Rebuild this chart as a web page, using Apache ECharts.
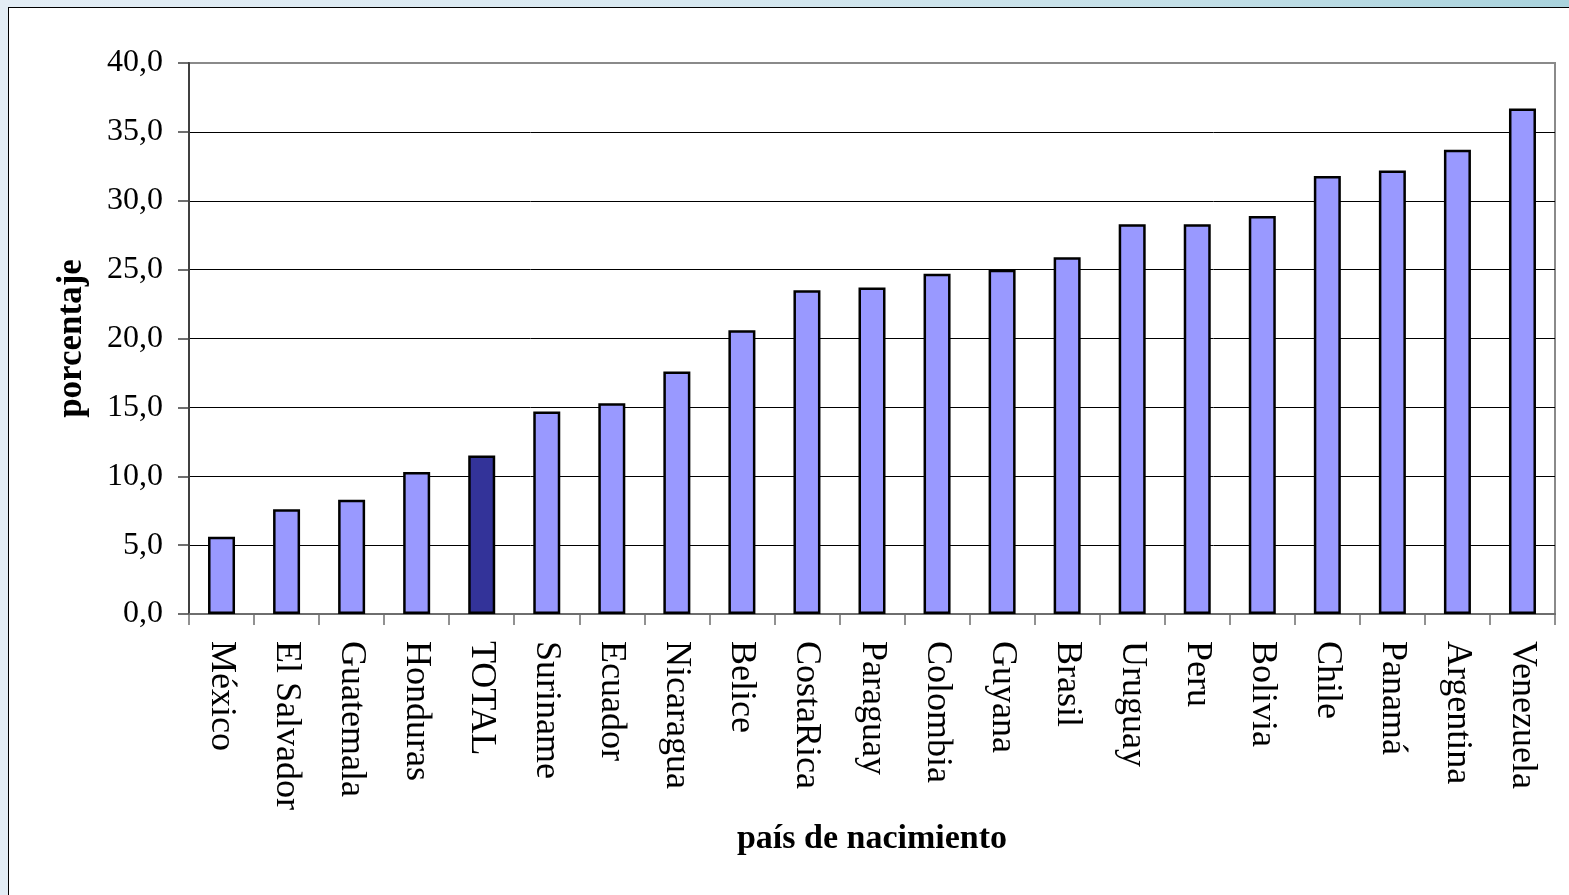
<!DOCTYPE html>
<html>
<head>
<meta charset="utf-8">
<script src="https://cdn.jsdelivr.net/npm/echarts@6/dist/echarts.min.js"></script>
<style>
  html, body { margin: 0; padding: 0; width: 1569px; height: 895px; overflow: hidden; }
  body { background: linear-gradient(to right, #e3edf5 0%, #d9e9f1 40%, #c4e0e8 75%, #a9d3dd 100%); position: relative; }
  #frame { position: absolute; left: 8px; top: 7px; width: 1580px; height: 910px; background: #ffffff; border: 1.5px solid #000; }
  #chart { position: absolute; left: 0; top: 0; width: 1569px; height: 895px; }
</style>
</head>
<body>
<div id="frame"></div>
<div id="chart"></div>
<script>
const categories = ['México', 'El Salvador', 'Guatemala', 'Honduras', 'TOTAL', 'Suriname', 'Ecuador', 'Nicaragua', 'Belice', 'CostaRica', 'Paraguay', 'Colombia', 'Guyana', 'Brasil', 'Uruguay', 'Peru', 'Bolivia', 'Chile', 'Panamá', 'Argentina', 'Venezuela'];
const values = [5.6, 7.6, 8.3, 10.3, 11.5, 14.7, 15.3, 17.6, 20.6, 23.5, 23.7, 24.7, 25.0, 25.9, 28.3, 28.3, 28.9, 31.8, 32.2, 33.7, 36.7];
const highlightCategory = 'TOTAL';
const yTicks = { min: 0, max: 40, interval: 5 };
const yAxisTitle = 'porcentaje';
const xAxisTitle = 'país de nacimiento';

const serif = '"Liberation Serif", "Times New Roman", serif';
const chart = echarts.init(document.getElementById('chart'), null, { renderer: 'canvas' });
chart.setOption({
  backgroundColor: 'transparent',
  animation: false,
  grid: { left: 189, right: 14, top: 63, bottom: 281, show: true, borderColor: '#8a8a8a', borderWidth: 2, backgroundColor: 'transparent' },
  xAxis: {
    type: 'category',
    data: categories,
    name: xAxisTitle,
    nameLocation: 'middle',
    nameGap: 208,
    nameTextStyle: { fontFamily: serif, fontWeight: 'bold', fontSize: 34, color: '#000' },
    axisLine: { lineStyle: { color: '#6e6e6e', width: 2 } },
    axisTick: { show: true, length: 11, lineStyle: { color: '#6e6e6e', width: 1.5 } },
    axisLabel: { rotate: -90, margin: 27, fontFamily: serif, fontSize: 36, color: '#000', interval: 0 }
  },
  yAxis: {
    type: 'value',
    min: yTicks.min, max: yTicks.max, interval: yTicks.interval,
    name: yAxisTitle,
    nameLocation: 'middle',
    nameGap: 100,
    nameRotate: 90,
    nameTextStyle: { fontFamily: serif, fontWeight: 'bold', fontSize: 35, color: '#000' },
    axisLine: { show: true, lineStyle: { color: '#404040', width: 2 } },
    axisTick: { show: true, length: 11, lineStyle: { color: '#404040', width: 1.5 } },
    axisLabel: { margin: 26, fontFamily: serif, fontSize: 32, color: '#000', formatter: v => v.toFixed(1).replace('.', ',') },
    splitLine: { show: true, showMaxLine: false, lineStyle: { color: '#000', width: 1 } }
  },
  series: [{
    type: 'bar',
    data: values.map((v, i) => ({
      value: v,
      itemStyle: { color: categories[i] === highlightCategory ? '#333399' : '#9999ff' }
    })),
    barWidth: 27,
    itemStyle: { borderColor: '#000', borderWidth: 2.5 }
  }]
});
</script>
</body>
</html>
